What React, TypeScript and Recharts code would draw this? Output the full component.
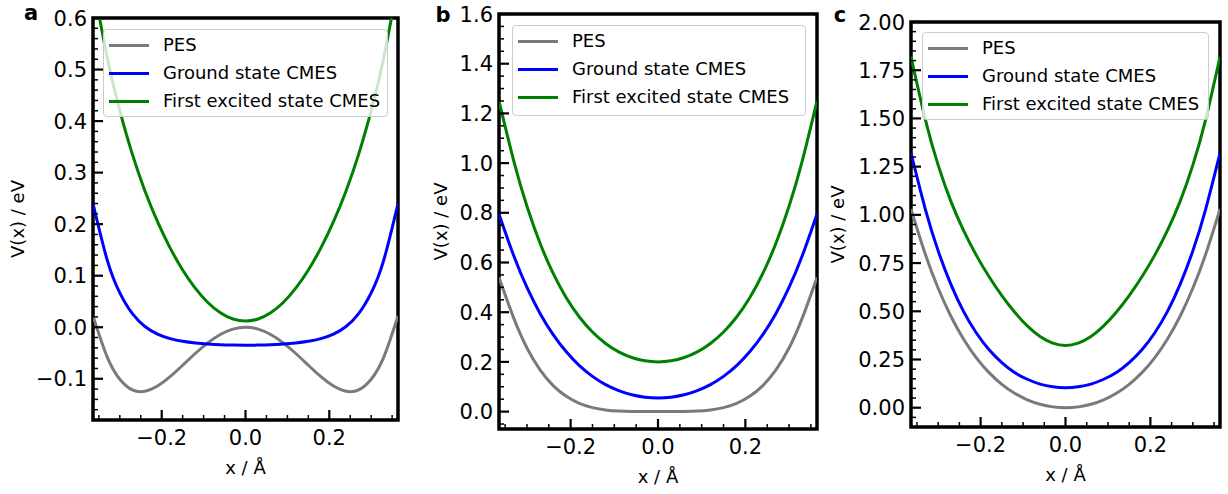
import React from "react";
import { LineChart, Line, XAxis, YAxis, Legend, ReferenceArea } from "recharts";

// x positions shared by all panels (Å)
const xs = [
  -0.364, -0.33, -0.3, -0.27, -0.24, -0.21, -0.18, -0.15, -0.12, -0.09, -0.06, -0.03, 0,
  0.03, 0.06, 0.09, 0.12, 0.15, 0.18, 0.21, 0.24, 0.27, 0.3, 0.33, 0.364,
];

// panel a (eV)
const pesA = [
  0.022, -0.058, -0.1008, -0.1216, -0.1242, -0.1142, -0.096, -0.0738, -0.051, -0.0303, -0.014, -0.0036, 0,
  -0.0036, -0.014, -0.0303, -0.051, -0.0738, -0.096, -0.1142, -0.1242, -0.1216, -0.1008, -0.058, 0.022,
];
const groundA = [
  0.24, 0.1303, 0.0666, 0.0263, 0.0015, -0.0134, -0.0221, -0.0273, -0.0305, -0.0326, -0.034, -0.0347, -0.035,
  -0.0347, -0.034, -0.0326, -0.0305, -0.0273, -0.0221, -0.0134, 0.0015, 0.0263, 0.0666, 0.1303, 0.24,
];
const excitedA = [
  0.669, 0.5229, 0.4201, 0.3353, 0.2645, 0.2047, 0.1539, 0.1111, 0.0758, 0.048, 0.028, 0.016, 0.012,
  0.016, 0.028, 0.048, 0.0758, 0.1111, 0.1539, 0.2047, 0.2645, 0.3353, 0.4201, 0.5229, 0.669,
];

// panel b
const pesB = [
  0.54, 0.375, 0.256, 0.168, 0.1048, 0.0615, 0.0332, 0.016, 0.0066, 0.0021, 0.0004, 0.0, 0,
  0.0, 0.0004, 0.0021, 0.0066, 0.016, 0.0332, 0.0615, 0.1048, 0.168, 0.256, 0.375, 0.54,
];
const groundB = [
  0.795, 0.626, 0.4996, 0.3952, 0.3097, 0.2405, 0.1852, 0.1419, 0.1087, 0.0845, 0.0678, 0.0582, 0.055,
  0.0582, 0.0678, 0.0845, 0.1087, 0.1419, 0.1852, 0.2405, 0.3097, 0.3952, 0.4996, 0.626, 0.795,
];
const excitedB = [
  1.25, 1.0073, 0.8264, 0.6774, 0.5561, 0.4584, 0.3807, 0.3202, 0.2741, 0.2404, 0.2176, 0.2043, 0.2,
  0.2043, 0.2176, 0.2404, 0.2741, 0.3202, 0.3807, 0.4584, 0.5561, 0.6774, 0.8264, 1.0073, 1.25,
];

// panel c
const pesC = [
  1.03, 0.7945, 0.6192, 0.4741, 0.3552, 0.2588, 0.1818, 0.1214, 0.0751, 0.0411, 0.0179, 0.0044, 0,
  0.0044, 0.0179, 0.0411, 0.0751, 0.1214, 0.1818, 0.2588, 0.3552, 0.4741, 0.6192, 0.7945, 1.03,
];
const groundC = [
  1.32, 1.0275, 0.8132, 0.6395, 0.4981, 0.3875, 0.3006, 0.2337, 0.1826, 0.1476, 0.1224, 0.1085, 0.104,
  0.1085, 0.1224, 0.1476, 0.1826, 0.2337, 0.3006, 0.3875, 0.4981, 0.6395, 0.8132, 1.0275, 1.32,
];
const excitedC = [
  1.82, 1.493, 1.258, 1.07, 0.918, 0.79, 0.679, 0.5815, 0.496, 0.424, 0.369, 0.335, 0.323,
  0.335, 0.369, 0.424, 0.496, 0.5815, 0.679, 0.79, 0.918, 1.07, 1.258, 1.493, 1.82,
];

// tick labels
const xMajor = [-0.2, 0, 0.2];
const yMajorA = [-0.1, 0, 0.1, 0.2, 0.3, 0.4, 0.5, 0.6];
const yMajorB = [0, 0.2, 0.4, 0.6, 0.8, 1.0, 1.2, 1.4, 1.6];
const yMajorC = [0, 0.25, 0.5, 0.75, 1.0, 1.25, 1.5, 1.75, 2.0];

const seriesNames = ["PES", "Ground state CMES", "First excited state CMES"];

const H = 494;
const FONT = "'DejaVu Sans', sans-serif";
const COLORS = ["#7a7a7a", "#0000ff", "#008000"];
const X_DOMAIN = [-0.364, 0.364];

// all tick positions (major + minor) between start and end
function tickRange(start: number, end: number, step: number) {
  const out: number[] = [];
  const n = Math.round((end - start) / step);
  for (let k = 0; k <= n; k++) out.push(Math.round((start + k * step) * 1e6) / 1e6);
  return out;
}

const fmt = (v: number, d: number) => {
  const s = Math.abs(v).toFixed(d);
  return v < -1e-9 ? "\u2212" + s : s;
};

const isMajor = (majors: number[], v: number) => majors.some((m) => Math.abs(m - v) < 1e-6);

function makeXTick(majors: number[]) {
  return (props: any) => {
    const { x, y, payload } = props;
    const major = isMajor(majors, payload.value);
    return (
      <g>
        <line x1={x} y1={y} x2={x} y2={y - (major ? 10 : 5)} stroke="#000" strokeWidth={major ? 2.2 : 1.5} />
        {major && (
          <text x={x} y={y + 24.5} textAnchor="middle" fontSize={21} fontFamily={FONT} fill="#000">
            {fmt(payload.value, 1)}
          </text>
        )}
      </g>
    );
  };
}

function makeYTick(majors: number[], digits: number) {
  return (props: any) => {
    const { x, y, payload } = props;
    const major = isMajor(majors, payload.value);
    return (
      <g>
        <line x1={x} y1={y} x2={x + (major ? 10 : 5)} y2={y} stroke="#000" strokeWidth={major ? 2.2 : 1.5} />
        {major && (
          <text x={x - 6} y={y + 7.6} textAnchor="end" fontSize={21} fontFamily={FONT} fill="#000">
            {fmt(payload.value, digits)}
          </text>
        )}
      </g>
    );
  };
}

function makeLegend(rowGap: number, firstRow: number) {
  return (props: any) => {
    // keep the plotting order, not alphabetical
    const payload = [...(props.payload || [])].sort(
      (a: any, b: any) => seriesNames.indexOf(a.value) - seriesNames.indexOf(b.value)
    );
    return (
      <div
        style={{
          position: "relative",
          boxSizing: "border-box",
          width: "100%",
          height: "100%",
          background: "rgba(255,255,255,0.8)",
          border: "1px solid #cccccc",
          borderRadius: 4,
          fontFamily: FONT,
        }}
      >
        {payload.map((entry: any, i: number) => (
          <div
            key={entry.value}
            style={{
              position: "absolute",
              left: 5,
              top: firstRow + i * rowGap - 12,
              height: 24,
              display: "flex",
              alignItems: "center",
              whiteSpace: "nowrap",
            }}
          >
            <span style={{ display: "inline-block", width: 40, height: 3, background: entry.color }} />
            <span style={{ marginLeft: 14, fontSize: 18, color: "#000", lineHeight: "24px" }}>{entry.value}</span>
          </div>
        ))}
      </div>
    );
  };
}

const panels = [
  {
    letter: "a",
    left: 0,
    width: 410,
    frame: { l: 93, r: 398, t: 18, b: 420 },
    yDomain: [-0.18, 0.6],
    yTicks: tickRange(-0.18, 0.6, 0.02),
    yMajor: yMajorA,
    yDigits: 1,
    letterPos: { x: 31, y: 20 },
    yTitleX: 17.5,
    legend: { left: 103, top: 29, width: 285, height: 88 },
    series: [pesA, groundA, excitedA],
  },
  {
    letter: "b",
    left: 410,
    width: 410,
    frame: { l: 89, r: 407, t: 14, b: 429 },
    yDomain: [-0.07, 1.6],
    yTicks: tickRange(-0.05, 1.6, 0.05),
    yMajor: yMajorB,
    yDigits: 1,
    letterPos: { x: 33, y: 22 },
    yTitleX: 30,
    legend: { left: 102, top: 25, width: 294, height: 91 },
    series: [pesB, groundB, excitedB],
  },
  {
    letter: "c",
    left: 820,
    width: 408,
    frame: { l: 91, r: 400, t: 22, b: 427 },
    yDomain: [-0.1, 2.0],
    yTicks: tickRange(-0.05, 2.0, 0.05),
    yMajor: yMajorC,
    yDigits: 2,
    letterPos: { x: 20, y: 22 },
    yTitleX: 17.5,
    legend: { left: 102, top: 32, width: 287, height: 88 },
    series: [pesC, groundC, excitedC],
  },
];

const xTicks = tickRange(-0.35, 0.35, 0.05);

function Panel({ cfg }: { cfg: any }) {
  const { frame, width } = cfg;
  const data = xs.map((x, i) => ({
    x,
    s0: cfg.series[0][i],
    s1: cfg.series[1][i],
    s2: cfg.series[2][i],
  }));
  const cx = (frame.l + frame.r) / 2;
  const cy = (frame.t + frame.b) / 2;

  return (
    <div style={{ position: "absolute", left: cfg.left, top: 0, width, height: H }}>
      <LineChart
        width={width}
        height={H}
        data={data}
        margin={{ top: frame.t, right: width - frame.r, bottom: 0, left: 0 }}
      >
        <XAxis
          dataKey="x"
          type="number"
          domain={X_DOMAIN}
          allowDataOverflow
          ticks={xTicks}
          interval={0}
          tickSize={0}
          tickMargin={0}
          tickLine={false}
          height={H - frame.b}
          axisLine={false}
          tick={makeXTick(xMajor)}
          label={() => (
            <g>
              <text x={cx} y={frame.b + 54} textAnchor="middle" fontSize={18} fontFamily={FONT} fill="#000">
                x / Å
              </text>
              <text
                x={cfg.letterPos.x}
                y={cfg.letterPos.y}
                textAnchor="middle"
                fontSize={21}
                fontWeight="bold"
                fontFamily={FONT}
                fill="#000"
              >
                {cfg.letter}
              </text>
            </g>
          )}
        />
        <YAxis
          type="number"
          domain={cfg.yDomain}
          allowDataOverflow
          ticks={cfg.yTicks}
          interval={0}
          tickSize={0}
          tickMargin={0}
          tickLine={false}
          width={frame.l}
          axisLine={false}
          tick={makeYTick(cfg.yMajor, cfg.yDigits)}
          label={() => (
            <text
              x={cfg.yTitleX}
              y={cy}
              transform={`rotate(-90 ${cfg.yTitleX} ${cy})`}
              textAnchor="middle"
              dominantBaseline="central"
              fontSize={18}
              fontFamily={FONT}
              fill="#000"
            >
              V(x) / eV
            </text>
          )}
        />
        {seriesNames.map((name, k) => (
          <Line
            key={name}
            type="natural"
            dataKey={`s${k}`}
            name={name}
            stroke={COLORS[k]}
            strokeWidth={3}
            dot={false}
            activeDot={false}
            isAnimationActive={false}
          />
        ))}
        {/* plot frame */}
        <ReferenceArea
          x1={X_DOMAIN[0]}
          x2={X_DOMAIN[1]}
          y1={cfg.yDomain[0]}
          y2={cfg.yDomain[1]}
          fill="none"
          fillOpacity={0}
          stroke="#000"
          strokeWidth={3.5}
          ifOverflow="visible"
        />
        <Legend
          layout="vertical"
          align="center"
          verticalAlign="middle"
          wrapperStyle={{
            left: cfg.legend.left,
            top: cfg.legend.top,
            width: cfg.legend.width,
            height: cfg.legend.height,
          }}
          content={makeLegend(28, 15)}
        />
      </LineChart>
    </div>
  );
}

export default function App() {
  return (
    <div style={{ position: "absolute", left: 0, top: 0, width: 1228, height: H, background: "#fff" }}>
      {panels.map((p) => (
        <Panel key={p.letter} cfg={p} />
      ))}
    </div>
  );
}
